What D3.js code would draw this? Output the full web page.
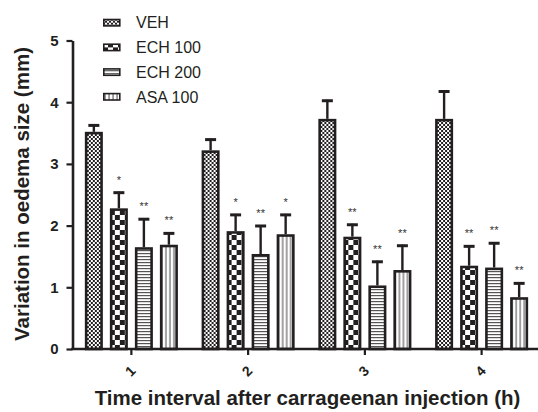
<!DOCTYPE html>
<html>
<head>
<meta charset="utf-8">
<script src="https://cdn.jsdelivr.net/npm/d3@7"></script>
<style>
    body { margin: 0; background: #fff; }
    text { font-family: "Liberation Sans", Arial, Helvetica, sans-serif; }
</style>
</head>
<body>
<div id="chart-area"></div>
<script>
const groups = ["1", "2", "3", "4"];
const series = ["VEH", "ECH 100", "ECH 200", "ASA 100"];

// mean values (mm) per series, one per time point
const vehMean = [3.52, 3.22, 3.73, 3.73];
const ech100Mean = [2.28, 1.91, 1.82, 1.35];
const ech200Mean = [1.65, 1.54, 1.03, 1.32];
const asaMean = [1.69, 1.86, 1.28, 0.84];

// error (SEM) per series
const vehErr = [0.12, 0.19, 0.31, 0.46];
const ech100Err = [0.27, 0.28, 0.21, 0.33];
const ech200Err = [0.47, 0.47, 0.40, 0.41];
const asaErr = [0.2, 0.33, 0.41, 0.24];

// significance marks
const vehSig = ["", "", "", ""];
const ech100Sig = ["*", "*", "**", "**"];
const ech200Sig = ["**", "**", "**", "**"];
const asaSig = ["**", "*", "**", "**"];

const yTicks = [0, 1, 2, 3, 4, 5];

const means = [vehMean, ech100Mean, ech200Mean, asaMean];
const errs = [vehErr, ech100Err, ech200Err, asaErr];
const sigs = [vehSig, ech100Sig, ech200Sig, asaSig];
const patternIds = ["p-veh", "p-ech100", "p-ech200", "p-asa"];

const data = [];
groups.forEach((g, gi) => {
    series.forEach((s, si) => {
        data.push({
            group: g,
            series: s,
            index: si,
            value: means[si][gi],
            err: errs[si][gi],
            sig: sigs[si][gi],
        });
    });
});

const W = 538;
const H = 412;
const ink = "#231f20";

const svg = d3
    .select("#chart-area")
    .append("svg")
    .attr("width", W)
    .attr("height", H);

//Patterns
const defs = svg.append("defs");

const pVeh = defs
    .append("pattern")
    .attr("id", "p-veh")
    .attr("patternUnits", "userSpaceOnUse")
    .attr("width", 4)
    .attr("height", 4);
pVeh.append("rect").attr("width", 4).attr("height", 4).attr("fill", "#fff");
pVeh.append("rect").attr("width", 2).attr("height", 2).attr("fill", ink);
pVeh.append("rect").attr("x", 2).attr("y", 2).attr("width", 2).attr("height", 2).attr("fill", ink);

const pEch100 = defs
    .append("pattern")
    .attr("id", "p-ech100")
    .attr("patternUnits", "userSpaceOnUse")
    .attr("width", 10)
    .attr("height", 10);
pEch100.append("rect").attr("width", 10).attr("height", 10).attr("fill", "#fff");
pEch100.append("rect").attr("width", 5).attr("height", 5).attr("fill", ink);
pEch100.append("rect").attr("x", 5).attr("y", 5).attr("width", 5).attr("height", 5).attr("fill", ink);

const pEch200 = defs
    .append("pattern")
    .attr("id", "p-ech200")
    .attr("patternUnits", "userSpaceOnUse")
    .attr("width", 6)
    .attr("height", 3);
pEch200.append("rect").attr("width", 6).attr("height", 3).attr("fill", "#fff");
pEch200.append("rect").attr("y", 1).attr("width", 6).attr("height", 1.2).attr("fill", "#555");

const pAsa = defs
    .append("pattern")
    .attr("id", "p-asa")
    .attr("patternUnits", "userSpaceOnUse")
    .attr("width", 4)
    .attr("height", 6);
pAsa.append("rect").attr("width", 4).attr("height", 6).attr("fill", "#fff");
pAsa.append("rect").attr("x", 1.5).attr("width", 1.1).attr("height", 6).attr("fill", "#555");

//Scales
const x0 = d3
    .scaleBand()
    .domain(groups)
    .range([73, 540])
    .paddingInner(0.143)
    .paddingOuter(0.0715);
const x1 = d3
    .scaleBand()
    .domain(series)
    .range([0, x0.bandwidth()])
    .paddingInner(0.28)
    .paddingOuter(0.14);
const y = d3.scaleLinear().domain([0, 5]).range([349, 40.5]);

//Bars
const barStroke = 2.6;
const bars = svg
    .append("g")
    .selectAll("g")
    .data(data)
    .enter()
    .append("g")
    .attr("transform", (d) => `translate(${x0(d.group) + x1(d.series)}, 0)`);

const bw = x1.bandwidth();

// error bars first so the bar edge covers the stem foot
bars.append("line")
    .attr("x1", bw / 2)
    .attr("x2", bw / 2)
    .attr("y1", (d) => y(d.value))
    .attr("y2", (d) => y(d.value + d.err))
    .attr("stroke", ink)
    .attr("stroke-width", 2.4);
bars.append("line")
    .attr("x1", bw / 2 - 5.5)
    .attr("x2", bw / 2 + 5.5)
    .attr("y1", (d) => y(d.value + d.err) + 1)
    .attr("y2", (d) => y(d.value + d.err) + 1)
    .attr("stroke", ink)
    .attr("stroke-width", 3);

bars.append("rect")
    .attr("x", barStroke / 2)
    .attr("width", bw - barStroke)
    .attr("y", (d) => y(d.value) + barStroke / 2)
    .attr("height", (d) => y(0) - y(d.value) - barStroke / 2)
    .attr("fill", (d) => `url(#${patternIds[d.index]})`)
    .attr("stroke", ink)
    .attr("stroke-width", barStroke);

bars.append("text")
    .attr("x", bw / 2)
    .attr("y", (d) => y(d.value + d.err) - 14)
    .attr("dy", "0.55em")
    .attr("text-anchor", "middle")
    .attr("font-size", "11px")
    .attr("fill", "#333")
    .text((d) => d.sig);

//Axes
const xAxisCall = d3.axisBottom(x0).tickSize(6).tickSizeOuter(0).tickFormat("");
const yAxisCall = d3
    .axisLeft(y)
    .tickValues(yTicks)
    .tickFormat(d3.format("d"))
    .tickSize(6)
    .tickSizeOuter(0)
    .tickPadding(8);

const xAxis = svg
    .append("g")
    .attr("class", "x-axis")
    .attr("transform", `translate(0, ${y(0)})`)
    .call(xAxisCall);
const yAxis = svg
    .append("g")
    .attr("class", "y-axis")
    .attr("transform", "translate(72.5, 0)")
    .call(yAxisCall);

[xAxis, yAxis].forEach((a) => {
    a.select(".domain").attr("stroke", ink).attr("stroke-width", 2.6);
    a.selectAll(".tick line").attr("stroke", ink).attr("stroke-width", 2.2);
});
xAxis.select(".domain").attr("d", "M71.2,0H538");
yAxis
    .selectAll(".tick text")
    .attr("fill", ink)
    .attr("font-size", "15px")
    .attr("font-weight", "bold")
    .attr("font-family", "'Liberation Sans', Arial, sans-serif");

// rotated x tick labels
svg.append("g")
    .selectAll("text")
    .data(groups)
    .enter()
    .append("text")
    .attr("transform", (d) => `translate(${x0(d) + x0.bandwidth() / 2 - 1}, 371) rotate(-45)`)
    .attr("dy", "0.35em")
    .attr("text-anchor", "middle")
    .attr("font-size", "14px")
    .attr("font-weight", "bold")
    .attr("fill", ink)
    .text((d) => d);

//Labels
svg.append("text")
    .attr("x", 307.5)
    .attr("y", 405)
    .attr("text-anchor", "middle")
    .attr("font-size", "20.5px")
    .attr("font-weight", "bold")
    .attr("fill", ink)
    .text("Time interval after carrageenan injection (h)");

svg.append("text")
    .attr("transform", "translate(29, 194) rotate(-90)")
    .attr("text-anchor", "middle")
    .attr("font-size", "20.5px")
    .attr("font-weight", "bold")
    .attr("fill", ink)
    .text("Variation in oedema size (mm)");

// Legend
const legend = svg.append("g").attr("transform", "translate(103, 22.7)");
series.forEach((s, i) => {
    const row = legend.append("g").attr("transform", `translate(0, ${i * 24.7})`);
    row.append("rect")
        .attr("x", 0.8)
        .attr("y", -3.2)
        .attr("width", 16)
        .attr("height", 6.4)
        .attr("fill", `url(#${patternIds[i]})`)
        .attr("stroke", ink)
        .attr("stroke-width", 1.6);
    row.append("text")
        .attr("x", 33)
        .attr("dy", "0.36em")
        .attr("font-size", "16px")
        .attr("fill", ink)
        .text(s);
});
</script>
</body>
</html>
